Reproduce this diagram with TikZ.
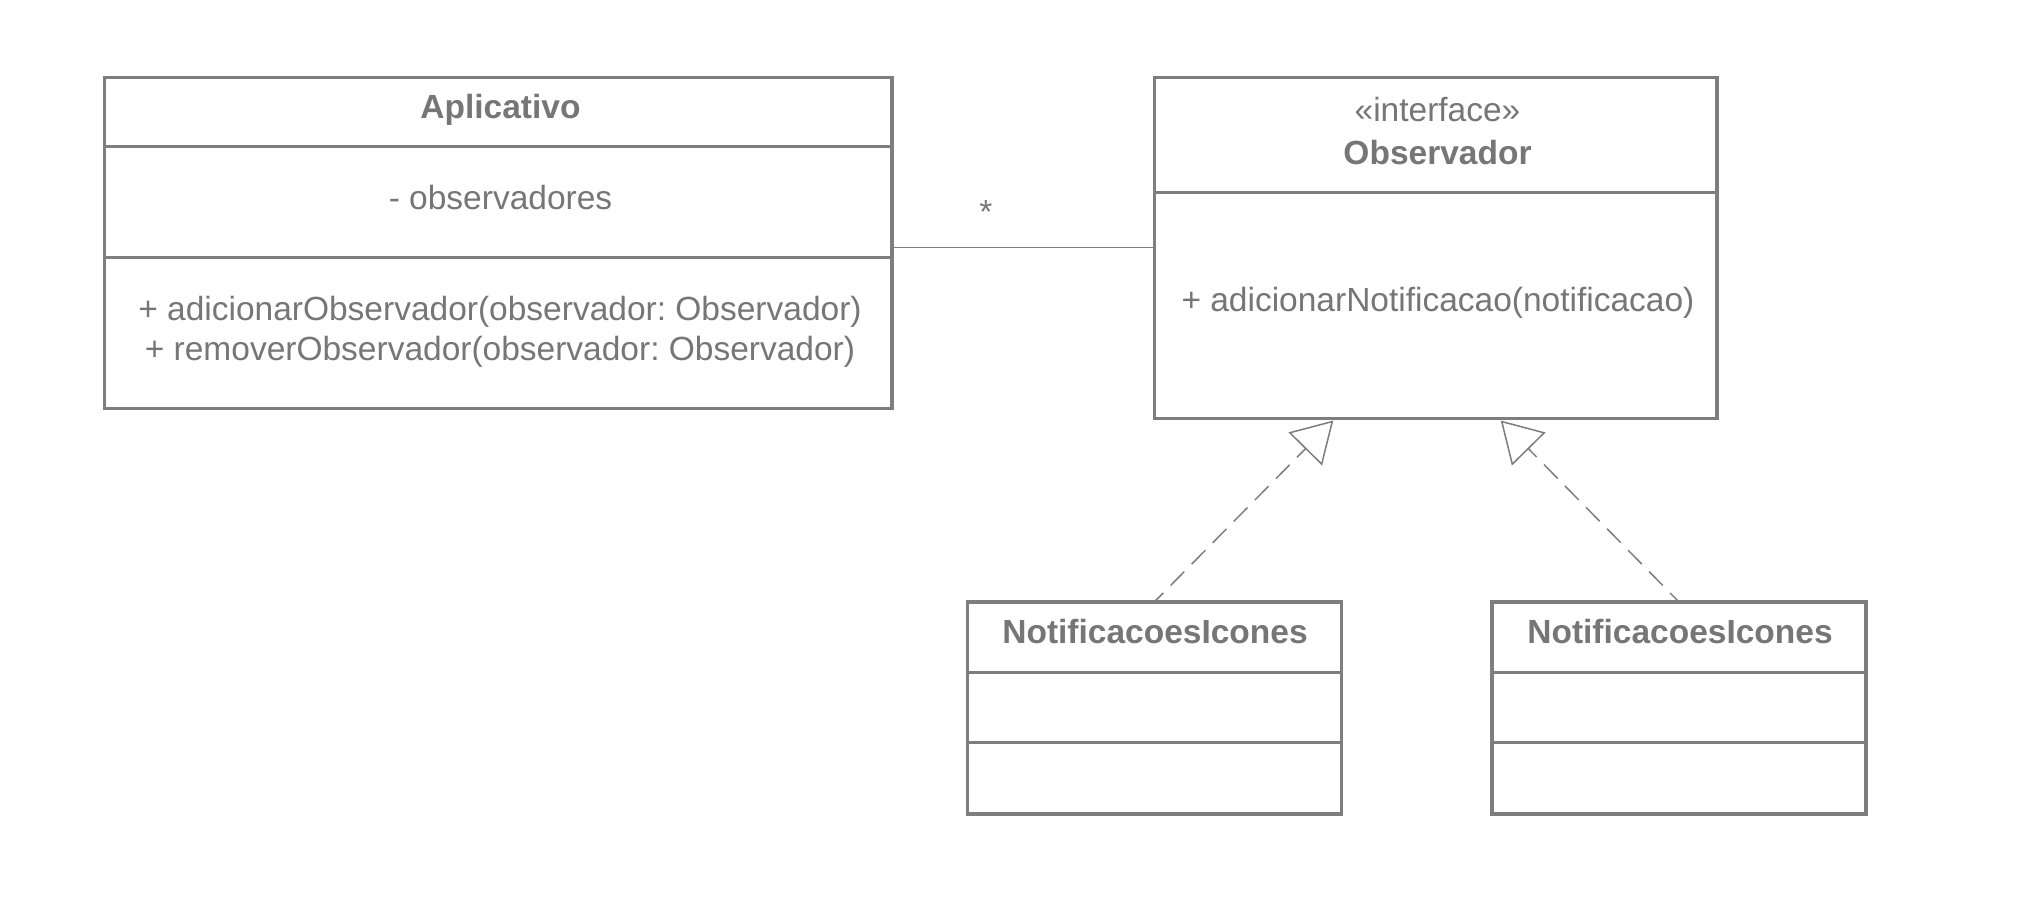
\documentclass[tikz,border=0pt]{standalone}
\usepackage{fontspec}
\setmainfont{Liberation Sans}
\usetikzlibrary{arrows.meta,calc}
\definecolor{umlgray}{RGB}{126,126,126}
\definecolor{txtgray}{RGB}{118,118,118}
\begin{document}
\frenchspacing
\begin{tikzpicture}[x=0.5pt,y=-0.5pt,
  box/.style={draw=umlgray, line width=1.7pt, rectangle, inner sep=0pt, outer sep=0pt, anchor=north west},
  sep/.style={draw=umlgray, line width=1.7pt},
  lbl/.style={text=txtgray, font=\fontsize{16.75pt}{20pt}\selectfont, anchor=base, inner sep=0pt},
  blbl/.style={text=txtgray, font=\fontsize{16.75pt}{20pt}\selectfont\bfseries, anchor=base, inner sep=0pt},
  assoc/.style={draw=umlgray, line width=0.75pt},
  realize/.style={draw=umlgray, line width=0.75pt, dash pattern=on 9.75pt off 5.25pt, dash phase=3.4pt,
    -{Triangle[open,length=20pt,width=23.5pt]}},
]
\path[use as bounding box, fill=white] (0,0) rectangle (2038,913);

% Aplicativo
\node[box, minimum width=393.75pt, minimum height=165.7pt] (apl) at (104.5,77.3) {};
\draw[sep] ($(apl.north west)+(0,69.4)$) -- ($(apl.north east)+(0,69.4)$);
\draw[sep] ($(apl.north west)+(0,180.4)$) -- ($(apl.north east)+(0,180.4)$);
\node[blbl] (aplT) at (500.5,118.3) {Aplicativo};
\node[lbl] (aplA) at (500.5,209.3) {- observadores};
\node[lbl] (aplM1) at (500,321) {+ adicionarObservador(observador: Observador)};
\node[lbl] (aplM2) at (500,361) {+ removerObservador(observador: Observador)};

% Observador
\node[box, minimum width=281.25pt, minimum height=170.7pt] (obs) at (1154.5,77.3) {};
\draw[sep] ($(obs.north west)+(0,115.4)$) -- ($(obs.north east)+(0,115.4)$);
\node[lbl] (obsS) at (1437.5,122) {«interface»};
\node[blbl] (obsT) at (1437.5,165) {Observador};
\node[lbl] (obsM) at (1438,312) {+ adicionarNotificacao(notificacao)};

% NotificacoesIcones 1
\node[box, minimum width=187pt, minimum height=106pt] (n1) at (967.3,602) {};
\draw[sep] ($(n1.north west)+(0,70.3)$) -- ($(n1.north east)+(0,70.3)$);
\draw[sep] ($(n1.north west)+(0,140.7)$) -- ($(n1.north east)+(0,140.7)$);
\node[blbl] (n1T) at (1155,643.3) {NotificacoesIcones};

% NotificacoesIcones 2
\node[box, minimum width=187pt, minimum height=106pt] (n2) at (1492,602) {};
\draw[sep] ($(n2.north west)+(0,70.3)$) -- ($(n2.north east)+(0,70.3)$);
\draw[sep] ($(n2.north west)+(0,140.7)$) -- ($(n2.north east)+(0,140.7)$);
\node[blbl] (n2T) at (1680,643.3) {NotificacoesIcones};

% association
\coordinate (assocY) at (0,247.7);
\draw[assoc] (apl.east |- assocY) -- (obs.west |- assocY);
\node[lbl] (mult) at (986,223.5) {*};

% realizations
\coordinate (tip1) at (1333.3,420.5);
\coordinate (tip2) at (1500.7,420.5);
\draw[realize] (n1.north) -- (tip1);
\draw[realize] (n2.north) -- (tip2);
\end{tikzpicture}
\end{document}
